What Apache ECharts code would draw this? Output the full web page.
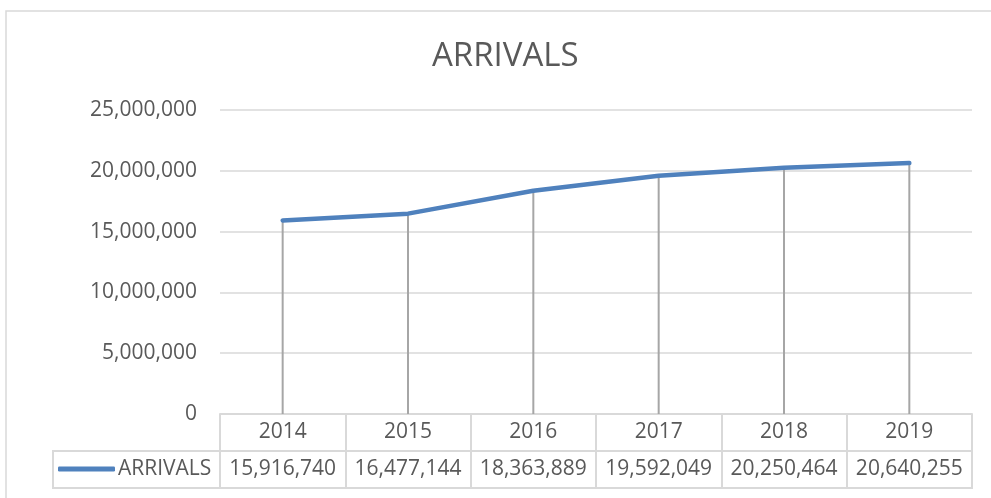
<!DOCTYPE html>
<html>
<head>
<meta charset="utf-8">
<script src="https://cdn.jsdelivr.net/npm/echarts@6/dist/echarts.min.js"></script>
<style>html,body{margin:0;padding:0;background:#fff;}#c{width:991px;height:498px;}</style>
</head>
<body>
<div id="c"></div>
<script>
const years = ['2014', '2015', '2016', '2017', '2018', '2019'];
const arrivals = [15916740, 16477144, 18363889, 19592049, 20250464, 20640255];
const yTicks = [0, 5000000, 10000000, 15000000, 20000000, 25000000];

const fmt = v => v.toLocaleString('en-US');
const FONT = 'Open Sans';
const TXT = '#595959';
const BORDER = '#D9D9D9';

const chart = echarts.init(document.getElementById('c'));
chart.setOption({
  animation: false,
  backgroundColor: '#fff',
  title: {
    text: 'ARRIVALS',
    left: 432, top: 37, padding: 0,
    textStyle: { fontFamily: FONT, fontSize: 33, fontWeight: 'normal', color: TXT, lineHeight: 40 }
  },
  legend: {
    data: ['ARRIVALS'],
    left: 58, top: 457, padding: 0,
    icon: 'roundRect', itemWidth: 57, itemHeight: 5,
    textStyle: { fontFamily: FONT, fontSize: 21, color: TXT, lineHeight: 24, padding: [0, 0, 0, -2] },
    selectedMode: false
  },
  grid: { left: 220, right: 19, top: 110, bottom: 84 },
  xAxis: {
    type: 'category',
    data: years,
    boundaryGap: true,
    axisLine: { show: true, lineStyle: { color: BORDER, width: 2 } },
    axisTick: { show: true, interval: 0, length: 74, lineStyle: { color: BORDER, width: 2 } },
    axisLabel: {
      interval: 0, margin: 0,
      formatter: (val, idx) => '{a|' + val + '}\n{b|' + fmt(arrivals[idx]) + '}',
      rich: {
        a: { fontFamily: FONT, fontSize: 21, color: TXT, lineHeight: 37, height: 37 },
        b: { fontFamily: FONT, fontSize: 21, color: TXT, lineHeight: 37, height: 37 }
      }
    },
    splitLine: { show: false }
  },
  yAxis: {
    type: 'value',
    min: yTicks[0], max: yTicks[yTicks.length - 1], interval: yTicks[1] - yTicks[0],
    axisLine: { show: false },
    axisTick: { show: false },
    axisLabel: { margin: 23, fontFamily: FONT, fontSize: 21, color: TXT, formatter: v => fmt(v) },
    splitLine: { lineStyle: { color: BORDER, width: 1.5 } }
  },
  series: [
    {
      name: 'drop', type: 'bar', data: arrivals, barWidth: 2,
      itemStyle: { color: '#A6A6A6' }, silent: true, z: 1
    },
    {
      name: 'ARRIVALS', type: 'line', data: arrivals,
      showSymbol: false, smooth: false,
      lineStyle: { color: '#4F81BD', width: 4.5, cap: 'round', join: 'round' },
      itemStyle: { color: '#4F81BD' }, z: 3
    }
  ],
  graphic: [
    { type: 'rect', shape: { x: 6, y: 11, width: 1100, height: 600 }, style: { fill: 'none', stroke: BORDER, lineWidth: 1.5 }, silent: true, z: -1 },
    { type: 'rect', shape: { x: 53, y: 451, width: 919, height: 37 }, style: { fill: 'none', stroke: BORDER, lineWidth: 2 }, silent: true }
  ]
});
</script>
</body>
</html>
